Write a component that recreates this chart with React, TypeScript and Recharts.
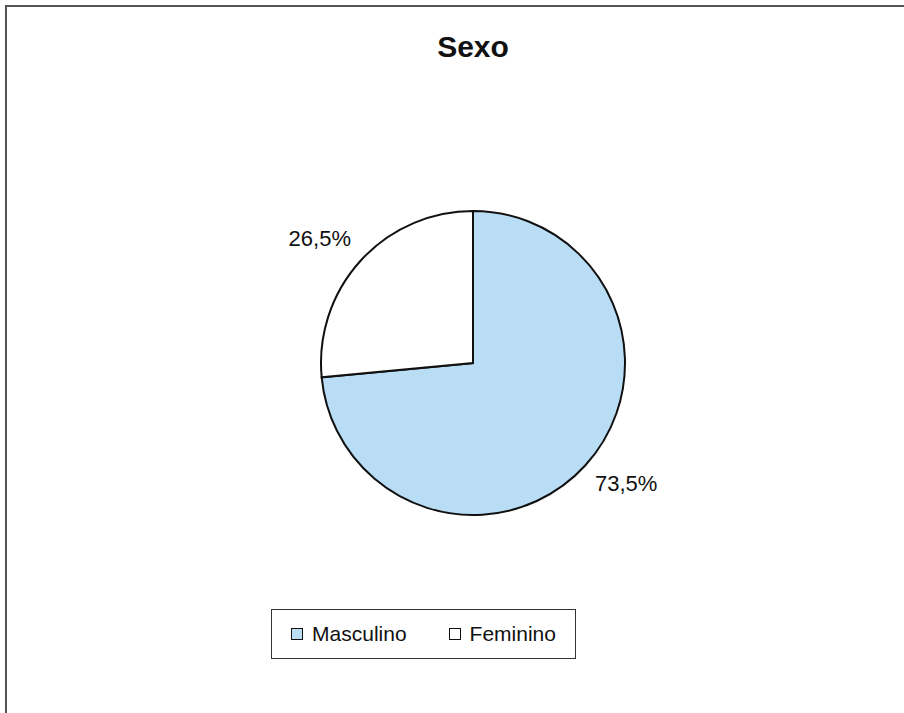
import { PieChart, Pie, Cell, Legend } from "recharts";

const categories = ["Masculino", "Feminino"];
const percents = [73.5, 26.5];
const sliceColors = ["#B8DDF4", "#FFFFFF"];
const chartTitle = "Sexo";

const data = categories.map((name, i) => ({ name, value: percents[i] }));

const RAD = Math.PI / 180;
const FONT = "Arial, 'Liberation Sans', sans-serif";

function renderLabel(props: any) {
  const { cx, cy, midAngle, outerRadius, value } = props;
  const r = outerRadius + 13;
  const cos = Math.cos(-midAngle * RAD);
  const sin = Math.sin(-midAngle * RAD);
  const x = cx + r * cos;
  const y = cy + r * sin;
  // excel-style: label sits outside the point, corner anchored
  const anchor = cos >= 0 ? "start" : "end";
  const dy = sin >= 0 ? 17 : -6;
  return (
    <text
      x={x}
      y={y + dy}
      textAnchor={anchor}
      fill="#111"
      fontSize={22}
      fontFamily={FONT}
    >
      {value.toFixed(1).replace(".", ",")}%
    </text>
  );
}

function LegendBox() {
  return (
    <div
      style={{
        width: 303,
        height: 48,
        border: "1px solid #333",
        display: "flex",
        alignItems: "center",
        justifyContent: "center",
        gap: 42,
        fontFamily: FONT,
        fontSize: 21,
        color: "#111",
        background: "#fff",
      }}
    >
      {categories.map((c, i) => (
        <div key={c} style={{ display: "flex", alignItems: "center" }}>
          <span
            style={{
              display: "inline-block",
              width: 10,
              height: 10,
              border: "1.5px solid #111",
              background: sliceColors[i],
              marginRight: 9,
            }}
          />
          <span>{c}</span>
        </div>
      ))}
    </div>
  );
}

export default function App() {
  return (
    <div
      style={{
        position: "absolute",
        left: 0,
        top: 0,
        width: 904,
        height: 713,
        background: "#fff",
        overflow: "hidden",
      }}
    >
      <div
        style={{
          position: "absolute",
          left: 5,
          top: 5,
          width: 930,
          height: 740,
          border: "2px solid #555",
          boxSizing: "border-box",
        }}
      />
      <div
        style={{
          position: "absolute",
          left: 0,
          width: 946,
          top: 30,
          textAlign: "center",
          fontFamily: FONT,
          fontWeight: "bold",
          fontSize: 30,
          color: "#111",
        }}
      >
        {chartTitle}
      </div>
      <PieChart
        width={904}
        height={713}
        margin={{ top: 0, right: 0, bottom: 0, left: 0 }}
        style={{ position: "absolute", left: 0, top: 0 }}
      >
        <Pie
          data={data}
          dataKey="value"
          nameKey="name"
          cx={473}
          cy={363}
          outerRadius={152}
          startAngle={90}
          endAngle={-270}
          stroke="#111"
          strokeWidth={2}
          label={renderLabel}
          labelLine={false}
          isAnimationActive={false}
        >
          {data.map((d, i) => (
            <Cell key={d.name} fill={sliceColors[i]} />
          ))}
        </Pie>
        <Legend
          content={() => <LegendBox />}
          wrapperStyle={{ position: "absolute", left: 271, top: 609, width: 305 }}
        />
      </PieChart>
    </div>
  );
}
